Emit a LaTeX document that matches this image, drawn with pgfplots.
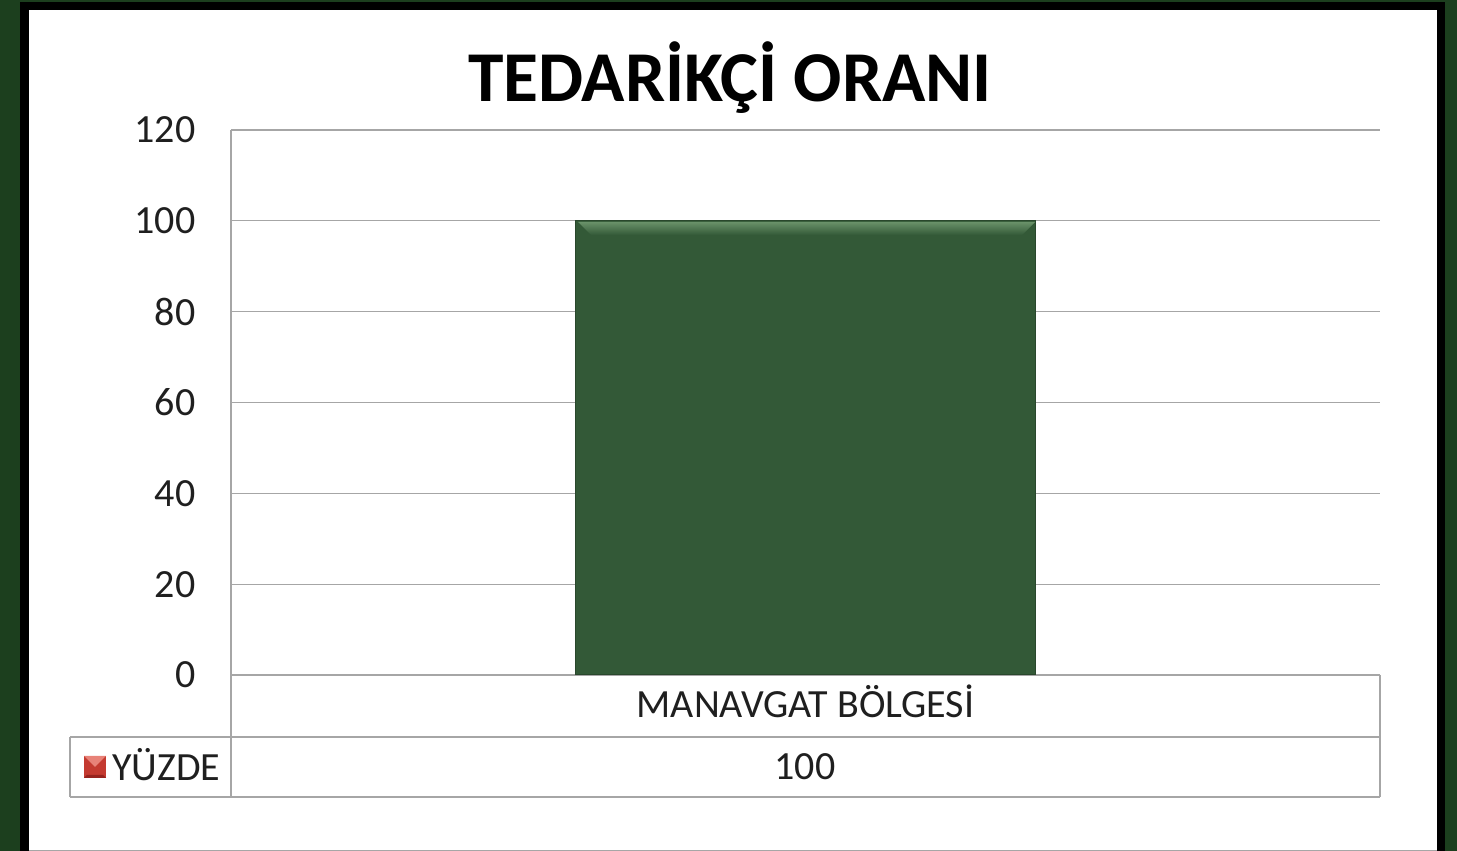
\documentclass[border=0pt]{standalone}
\usepackage{fontspec}
\setmainfont{Carlito}
\usepackage{pgfplots}
\pgfplotsset{compat=1.18}
\definecolor{bggreen}{RGB}{28,63,30}
\definecolor{barcol}{RGB}{51,89,55}
\definecolor{barlight}{RGB}{105,145,105}
\definecolor{gridgray}{RGB}{166,166,166}
\definecolor{legred}{RGB}{196,58,48}
\definecolor{legdark}{RGB}{150,35,30}
\definecolor{legpink}{RGB}{232,130,120}
\begin{document}
\begin{tikzpicture}[x=1pt,y=1pt]
\fill[bggreen] (0,0) rectangle (1457,851);
\fill[black] (20,0) rectangle (1445,849);
\fill[white] (29,0) rectangle (1437,841);
\draw[gridgray,line width=1pt] (29,0.5) -- (1437,0.5);
% title
\node[font=\fontsize{71.5}{78}\selectfont\bfseries, text=black] at (730,773) {TEDARİKÇİ ORANI};
\begin{axis}[
  at={(231pt,176pt)}, anchor=south west,
  scale only axis, width=1149pt, height=545pt,
  xmin=0, xmax=1, ymin=0, ymax=120,
  ytick={0,20,...,120}, xtick={0.5}, xticklabels={MANAVGAT BÖLGESİ},
  ymajorgrids, grid style={gridgray, line width=1.2pt},
  axis x line*=bottom, axis y line*=left,
  axis line style={gridgray, line width=1.2pt, -},
  major tick length=0pt,
  /pgf/number format/assume math mode=true,
  yticklabel style={font=\fontsize{40}{44}\selectfont, text=black!88, anchor=east, xshift=-32pt},
  xticklabel style={font=\fontsize{40}{44}\selectfont, text=black!88, anchor=center, yshift=-26pt},
  clip=false,
]
\addplot[ybar, bar width=459pt, fill=barcol, draw=barcol!80!black, line width=1pt] coordinates {(0.5,100)};
\end{axis}
% bar bevel highlight
\shade[top color=barlight, bottom color=barcol] (578,629) -- (1035,629) -- (1022,616) -- (591,616) -- cycle;
% data table
\draw[gridgray, line width=1.2pt] (231,176) -- (231,54);
\draw[gridgray, line width=1.2pt] (1380,176) -- (1380,54);
\draw[gridgray, line width=1.2pt] (70,114) -- (1380,114);
\draw[gridgray, line width=1.2pt] (70,54) -- (1380,54);
\draw[gridgray, line width=1.2pt] (70,114) -- (70,54);
\fill[legred] (84,73) rectangle (106,95);
\fill[legpink] (84,95) -- (106,95) -- (95,84) -- cycle;
\fill[legdark] (84,73) -- (106,73) -- (103,76) -- (87,76) -- cycle;
\node[font=\fontsize{40}{44}\selectfont, text=black!88, anchor=west, inner sep=0pt] at (112,86) {YÜZDE};
\node[font=\fontsize{40}{44}\selectfont, text=black!88] at (805,84) {100};
\end{tikzpicture}
\end{document}
